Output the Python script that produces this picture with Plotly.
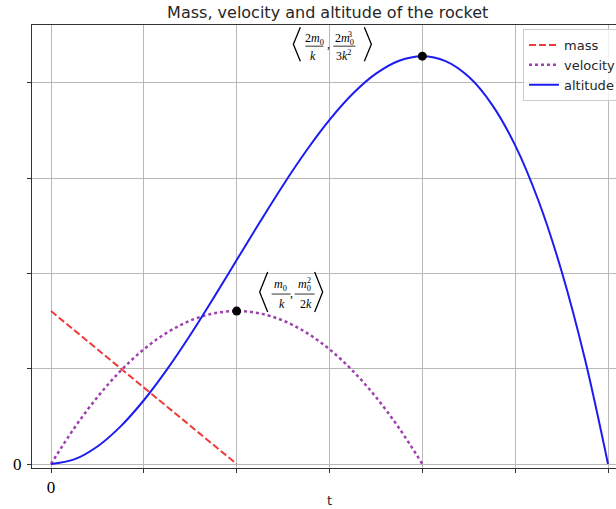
import plotly.graph_objects as go

# values (x in tick units, y in grid units)
t_mass = [0, 2]
mass = [1.605, 0]

t_vel = [0, 0.25, 0.5, 0.75, 1, 1.25, 1.5, 1.75, 2, 2.25, 2.5, 2.75, 3, 3.25, 3.5, 3.75, 4]
velocity = [0, 0.376, 0.702, 0.978, 1.204, 1.379, 1.505, 1.580, 1.605, 1.580, 1.505,
            1.379, 1.204, 0.978, 0.702, 0.376, 0]

t_alt = [0, 0.25, 0.5, 0.75, 1, 1.25, 1.5, 1.75, 2, 2.25, 2.5, 2.75, 3, 3.25, 3.5,
         3.75, 4, 4.25, 4.5, 4.75, 5, 5.25, 5.5, 5.75, 6]
altitude = [0, 0.048, 0.184, 0.395, 0.669, 0.993, 1.354, 1.741, 2.140, 2.539, 2.926,
            3.287, 3.611, 3.885, 4.096, 4.232, 4.280, 4.228, 4.063, 3.772, 3.344,
            2.765, 2.023, 1.106, 0]

vel_peak = (2, 1.605)
alt_peak = (4, 4.280)

x_ticks = [0, 1, 2, 3, 4, 5, 6]
x_ticktext = ["0", "", "", "", "", "", ""]
y_ticks = [0, 1, 2, 3, 4]
y_ticktext = ["0", "", "", "", ""]

SERIF = "Liberation Serif, DejaVu Serif, serif"
SANS = "DejaVu Sans, sans-serif"

fig = go.Figure()
fig.add_trace(go.Scatter(x=t_mass, y=mass, mode="lines", name="mass",
                         line=dict(color="#f03a3a", width=2, dash="7px,3px")))
fig.add_trace(go.Scatter(x=t_vel, y=velocity, mode="lines", name="velocity",
                         line=dict(color="#a040b0", width=2.5, dash="dot", shape="spline")))
fig.add_trace(go.Scatter(x=t_alt, y=altitude, mode="lines", name="altitude",
                         line=dict(color="#1c1cf0", width=2, shape="spline")))
fig.add_trace(go.Scatter(x=[vel_peak[0], alt_peak[0]], y=[vel_peak[1], alt_peak[1]],
                         mode="markers", showlegend=False,
                         marker=dict(color="black", size=9)))

shapes = []
annotations = []


def bracket_label(anchor, parts, bars, brackets):
    # parts: (text, dx, dy, size) ; bars: (dx0, dx1, dy) ; brackets: 3-point paths
    ax, ay = anchor
    for text, dx, dy, size in parts:
        annotations.append(dict(x=ax, y=ay, xref="x", yref="y", text=text,
                                showarrow=False, xshift=dx, yshift=dy,
                                xanchor="center", yanchor="middle",
                                font=dict(family=SERIF, size=size, color="black")))
    for dx0, dx1, dy in bars:
        shapes.append(dict(type="line", xref="x", yref="y", xsizemode="pixel",
                           ysizemode="pixel", xanchor=ax, yanchor=ay,
                           x0=dx0, x1=dx1, y0=dy, y1=dy,
                           line=dict(color="black", width=0.8)))
    for pts in brackets:
        path = "M " + " L ".join(f"{px},{py}" for px, py in pts)
        shapes.append(dict(type="path", xref="x", yref="y", xsizemode="pixel",
                           ysizemode="pixel", xanchor=ax, yanchor=ay, path=path,
                           line=dict(color="black", width=1.3)))


# altitude peak label  <2m0/k , 2m0^3/(3k^2)>
bracket_label(
    alt_peak,
    [("2<i>m</i><sub>0</sub>", -108, 17, 12), ("<i>k</i>", -109, 0, 12), (",", -94, 12, 12),
     ("2<i>m</i><sub>0</sub>", -78, 17, 12), ("3", -72, 22, 8),
     ("3<i>k</i><sup>2</sup>", -78, 1, 12)],
    [(-117, -99, 10), (-89, -67, 10)],
    [[(-122, 29), (-129, 12), (-122, -5)], [(-58, 29), (-51, 12), (-58, -5)]],
)

# velocity peak label  <m0/k , m0^2/(2k)>
bracket_label(
    vel_peak,
    [("<i>m</i><sub>0</sub>", 44, 26, 12), ("<i>k</i>", 45, 7, 12), (",", 55, 18, 12),
     ("<i>m</i><sub>0</sub>", 68, 26, 12), ("2", 72, 31, 8), ("2<i>k</i>", 69, 7, 12)],
    [(35, 54, 17), (58, 78, 17)],
    [[(31, 39), (23, 19), (31, -1)], [(78, 39), (86, 19), (78, -1)]],
)

# x-axis title placed like the reference
annotations.append(dict(x=3, y=(468 - 500) / 443, xref="x", yref="paper", text="t",
                        showarrow=False, xanchor="center", yanchor="middle",
                        font=dict(family=SANS, size=13, color="#262626")))

fig.update_layout(
    width=616, height=509,
    margin=dict(l=32, r=0, t=25, b=41, autoexpand=False),
    paper_bgcolor="white", plot_bgcolor="white",
    title=dict(text="Mass, velocity and altitude of the rocket",
               x=0.532, xref="container", xanchor="center",
               y=1 - 12 / 509, yref="container", yanchor="middle",
               font=dict(family=SANS, size=16, color="#262626")),
    shapes=shapes,
    annotations=annotations,
    showlegend=True,
    legend=dict(x=(523 - 32) / 584, y=(468 - 29) / 443, xanchor="left", yanchor="top",
                bgcolor="rgba(255,255,255,0.8)", bordercolor="#cccccc", borderwidth=1,
                font=dict(family=SANS, size=13, color="#262626"), tracegroupgap=0),
)

fig.update_xaxes(
    range=[-0.2047, 6.086], tickvals=x_ticks, ticktext=x_ticktext,
    ticks="outside", ticklen=4, tickcolor="#333333", tickwidth=1,
    showline=True, linecolor="#333333", linewidth=1, mirror=True,
    showgrid=True, gridcolor="#b8b8b8", gridwidth=1, zeroline=False,
    tickfont=dict(family=SERIF, size=17, color="black"),
    automargin=False, ticklabelstandoff=0,
)
fig.update_yaxes(
    range=[-0.042, 4.607], tickvals=y_ticks, ticktext=y_ticktext,
    ticks="outside", ticklen=4, tickcolor="#333333", tickwidth=1,
    showline=True, linecolor="#333333", linewidth=1, mirror=False,
    showgrid=True, gridcolor="#b8b8b8", gridwidth=1, zeroline=False,
    tickfont=dict(family=SERIF, size=17, color="black"),
    automargin=False, ticklabelstandoff=2,
)

# drop the page's default body margin so the chart sits at the window's corner
fig.write_html("out.html", config={"displayModeBar": False},
               post_script="document.body.style.margin='0';")
